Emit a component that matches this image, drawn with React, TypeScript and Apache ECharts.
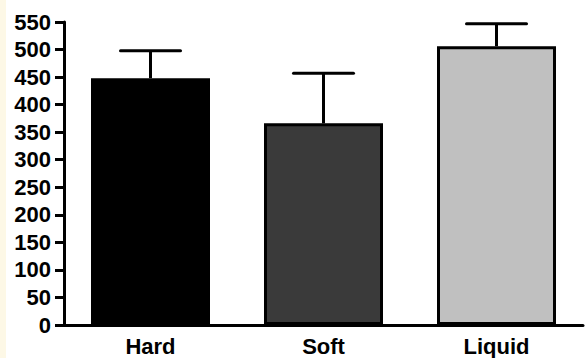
import React, { useEffect, useRef } from "react";
import * as echarts from "echarts";

const categories = ["Hard", "Soft", "Liquid"];
const means = [448, 366, 506];
const errors = [50, 91, 41];
const barColors = ["#000000", "#3a3a3a", "#c0c0c0"];
const yTicks = { min: 0, max: 550, interval: 50 };

export default function App() {
  const ref = useRef<HTMLDivElement>(null);
  useEffect(() => {
    if (!ref.current) return;
    const chart = echarts.init(ref.current, null, { renderer: "svg" });
    const font = "'Liberation Sans', Arial, Helvetica, sans-serif";
    chart.setOption({
      animation: false,
      backgroundColor: "#ffffff",
      graphic: [
        {
          type: "rect",
          shape: { x: 0, y: 0, width: 6, height: 358 },
          style: { fill: "#fdf8e6" },
          z: -1,
        },
      ],
      grid: { left: 64, right: 5, top: 22, bottom: 33, containLabel: false },
      xAxis: {
        type: "category",
        data: categories,
        boundaryGap: true,
        axisLine: { lineStyle: { color: "#000", width: 3 } },
        axisTick: { alignWithLabel: true, length: 6, lineStyle: { color: "#000", width: 3 } },
        axisLabel: {
          color: "#000",
          fontFamily: font,
          fontWeight: "bold",
          fontSize: 22,
          margin: 10,
        },
        splitLine: { show: false },
      },
      yAxis: {
        type: "value",
        min: yTicks.min,
        max: yTicks.max,
        interval: yTicks.interval,
        axisLine: { show: true, lineStyle: { color: "#000", width: 3 } },
        axisTick: { show: true, length: 9, lineStyle: { color: "#000", width: 3 } },
        axisLabel: {
          color: "#000",
          fontFamily: font,
          fontWeight: "bold",
          fontSize: 22,
          margin: 13,
        },
        splitLine: { show: false },
      },
      series: [
        {
          type: "custom",
          z: 1,
          renderItem: (params: any, api: any) => {
            const idx = api.value(0);
            const m = api.value(1);
            const e = api.value(2);
            const base = api.coord([idx, m]);
            const top = api.coord([idx, m + e]);
            const half = 30;
            return {
              type: "group",
              children: [
                {
                  type: "line",
                  shape: { x1: base[0], y1: base[1], x2: top[0], y2: top[1] },
                  style: { stroke: "#000", lineWidth: 3 },
                },
                {
                  type: "line",
                  shape: { x1: top[0] - half, y1: top[1], x2: top[0] + half, y2: top[1] },
                  style: { stroke: "#000", lineWidth: 3, lineCap: "round" },
                },
              ],
            };
          },
          data: categories.map((_, i) => [i, means[i], errors[i]]),
        },
        {
          type: "bar",
          z: 2,
          barWidth: 119,
          data: means.map((v, i) => ({
            value: v,
            itemStyle: { color: barColors[i], borderColor: "#000", borderWidth: 3 },
          })),
        },
      ],
    });
    return () => chart.dispose();
  }, []);
  return (
    <div
      ref={ref}
      style={{ position: "absolute", left: 0, top: 0, width: 588, height: 358 }}
    />
  );
}
